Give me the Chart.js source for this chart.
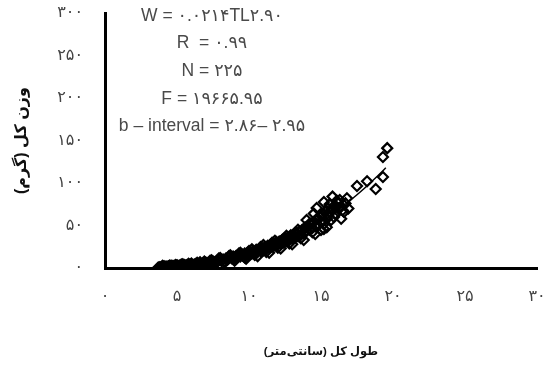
<!DOCTYPE html>
<html>
<head>
<meta charset="utf-8">
<script src="https://cdn.jsdelivr.net/npm/chart.js@4"></script>
<style>
  html, body { margin: 0; padding: 0; background: #fff; }
  #wrap { width: 558px; height: 367px; }
</style>
</head>
<body>
<div id="wrap"><canvas id="chart" width="558" height="367"></canvas></div>
<script>
// length (cm) and weight (g)
const lengths = [3.8, 3.9, 4.0, 4.0, 4.1, 4.2, 4.2, 4.3, 4.4, 4.4, 4.5, 4.6, 4.6, 4.7, 4.8, 4.8, 4.9, 5.0, 5.0, 5.1,
  5.2, 5.2, 5.3, 5.4, 5.5, 5.5, 5.6, 5.7, 5.8, 5.9, 6.0, 6.0, 6.2, 6.3, 6.5, 6.6, 6.8, 7.0, 7.1, 7.3,
  7.5, 7.6, 7.8, 8.0, 8.1, 8.2, 8.4, 8.5, 8.6, 8.8, 8.9, 9.0, 9.1, 9.2, 9.3, 9.4, 9.5, 9.6, 9.7, 9.8,
  9.9, 10.0, 10.1, 10.2, 10.3, 10.4, 10.5, 10.6, 10.7, 10.8, 10.9, 11.0, 11.1, 11.2, 11.3, 11.4, 11.5, 11.6, 11.7, 11.8,
  11.9, 12.0, 12.1, 12.2, 12.3, 12.4, 12.5, 12.6, 12.7, 12.8, 12.9, 13.0, 13.1, 13.2, 13.3, 13.4, 13.5, 13.6, 13.7, 13.8,
  13.9, 14.0, 14.0, 14.1, 14.2, 14.3, 14.4, 14.5, 14.6, 14.7, 14.7, 14.8, 14.9, 15.0, 15.0, 15.1, 15.2, 15.2, 15.3, 15.4,
  15.5, 15.5, 15.6, 15.7, 15.8, 15.9, 16.0, 16.1, 16.2, 16.3, 16.4, 16.6, 16.7, 16.8, 17.5, 18.2, 18.8, 19.3, 19.3, 19.6,
  3.7, 4.0, 4.3, 4.5, 4.7, 4.9, 5.1, 5.3, 5.6, 5.8, 6.1, 6.4, 6.7, 6.9, 7.2, 7.4, 7.7, 7.9, 8.3, 8.7,
  9.0, 9.4, 9.8, 10.2, 10.6, 11.0, 11.4, 11.8, 12.2, 12.6, 13.0, 13.4, 13.8, 14.2, 14.6, 15.0, 15.4, 16.0, 16.4, 16.9,
  4.1, 4.4, 4.6, 4.8, 5.0, 5.2, 5.4, 5.7, 6.0, 6.3, 6.6, 7.0, 7.3, 7.6, 8.0, 8.3, 8.6, 9.0, 9.3, 9.7,
  10.0, 10.4, 10.8, 11.2, 11.6, 12.0, 12.4, 12.8, 13.2, 13.6, 14.0, 14.4, 14.8, 15.2, 15.6, 15.9, 16.2, 16.5, 14.5, 15.8];
const weights = [0.9, 1.2, 0.8, 1.5, 1.1, 1.4, 0.7, 1.6, 1.2, 2.0, 1.5, 1.9, 1.1, 2.2, 1.7, 2.5, 2.0, 2.6, 1.8, 2.4,
  3.0, 2.1, 2.7, 3.2, 2.6, 3.5, 3.0, 3.6, 3.2, 4.0, 3.5, 4.4, 4.0, 4.6, 4.5, 5.3, 5.6, 6.3, 5.5, 7.0,
  7.6, 6.8, 8.4, 9.6, 8.2, 10.0, 11.2, 9.8, 12.0, 11.4, 13.5, 12.0, 14.0, 12.8, 15.2, 13.6, 16.0, 14.2, 17.0, 15.4,
  18.0, 16.2, 19.0, 17.0, 20.0, 18.2, 21.5, 19.4, 22.0, 20.2, 23.5, 21.0, 24.6, 22.4, 26.0, 23.8, 27.5, 25.0, 28.4, 26.4,
  30.5, 27.6, 31.2, 29.0, 33.0, 30.0, 35.0, 31.5, 36.0, 33.0, 38.5, 34.5, 39.0, 36.0, 41.5, 37.5, 43.0, 39.0, 45.0, 41.0,
  47.5, 43.5, 56.5, 49.0, 45.0, 52.0, 47.0, 54.0, 49.0, 70.6, 57.5, 50.5, 60.0, 44.7, 55.0, 63.0, 77.6, 52.0, 66.0, 58.0,
  70.0, 62.0, 75.0, 56.5, 68.0, 73.0, 64.0, 79.0, 70.0, 80.0, 72.0, 65.9, 76.0, 82.0, 96.5, 102, 93, 107, 130.6, 141,
  0.5, 2.5, 0.3, 2.8, 0.9, 3.4, 1.2, 4.0, 1.8, 4.8, 2.5, 6.0, 3.5, 7.5, 4.2, 9.0, 5.5, 11.0, 6.5, 15.0,
  8.5, 18.0, 11.0, 22.0, 14.0, 27.0, 18.0, 32.0, 23.0, 38.0, 28.0, 45.0, 33.0, 52.0, 40.0, 62.0, 48.0, 72.0, 58.0, 70.0,
  2.0, 0.4, 2.6, 0.6, 3.2, 1.0, 4.4, 2.0, 5.2, 2.8, 6.8, 4.0, 8.6, 5.0, 11.8, 7.8, 13.8, 10.0, 17.0, 12.5,
  20.0, 15.5, 24.5, 19.0, 29.5, 24.0, 34.0, 29.0, 41.0, 35.0, 48.0, 42.0, 58.0, 46.0, 66.0, 60.0, 76.0, 68.0, 64.0, 84.0];

// fitted curve W = 0.0214 TL^2.90, tabulated
const fitLengths = [4, 5, 6, 7, 8, 9, 10, 11, 12, 13, 14, 15, 16, 17, 18, 19, 19.5];
const fitWeights = [1.19, 2.28, 3.87, 6.04, 8.9, 12.5, 17.0, 22.4, 28.9, 36.4, 45.1, 55.1, 66.4, 79.1, 93.5, 109.4, 117.9];

const xTicks = [0, 5, 10, 15, 20, 25, 30];
const yTicks = [0, 50, 100, 150, 200, 250, 300];

const statLines = [
  'W = ۰.۰۲۱۴TL۲.۹۰',
  'R  = ۰.۹۹',
  'N = ۲۲۵',
  'F = ۱۹۶۶۵.۹۵',
  'b – interval = ۲.۸۶– ۲.۹۵'
];

const xTitle = 'طول کل (سانتی‌متر)';
const yTitle = 'وزن کل (گرم)';

const FONT = "'Liberation Sans', 'DejaVu Sans', sans-serif";
const faDigits = '۰۱۲۳۴۵۶۷۸۹';
function toFa(n) {
  return String(n).replace(/[0-9]/g, d => faDigits[+d]);
}

const points = lengths.map((x, i) => ({ x: x, y: weights[i] }));
const fitPoints = fitLengths.map((x, i) => ({ x: x, y: fitWeights[i] }));

// the equation block in the upper left
const statsText = {
  id: 'statsText',
  afterDraw(chart) {
    const ctx = chart.ctx;
    ctx.save();
    ctx.font = '17.5px ' + FONT;
    ctx.fillStyle = '#4a4a4a';
    ctx.textAlign = 'center';
    ctx.textBaseline = 'middle';
    statLines.forEach((t, i) => {
      ctx.fillText(t, 212, 16 + i * 27.6);
    });
    ctx.restore();
  }
};

new Chart(document.getElementById('chart'), {
  type: 'scatter',
  data: {
    datasets: [
      {
        data: points,
        pointStyle: 'rectRot',
        pointRadius: 5,
        pointBorderWidth: 2.2,
        borderColor: '#000',
        backgroundColor: 'rgba(255,255,255,0)',
        order: 2
      },
      {
        type: 'line',
        data: fitPoints,
        borderColor: '#000',
        borderWidth: 1.5,
        pointRadius: 0,
        tension: 0.4,
        fill: false,
        order: 1
      }
    ]
  },
  options: {
    responsive: false,
    animation: false,
    events: [],
    layout: { padding: { top: 13, right: 21, left: 0, bottom: 0 } },
    plugins: { legend: { display: false }, tooltip: { enabled: false } },
    scales: {
      x: {
        type: 'linear',
        min: 0, max: 30,
        afterBuildTicks: s => { s.ticks = xTicks.map(v => ({ value: v })); },
        afterFit: s => { s.height = 99; s.paddingLeft = 0; s.paddingRight = 0; },
        grid: { display: false, drawTicks: false },
        border: { color: '#000', width: 3 },
        ticks: { color: '#444', padding: 19, font: { size: 16, family: FONT }, callback: v => toFa(v) },
        title: { display: true, text: xTitle, color: '#111', padding: { top: 0, bottom: 8 }, font: { size: 11.5, weight: 'bold', family: FONT } }
      },
      y: {
        type: 'linear',
        min: 0, max: 300,
        afterBuildTicks: s => { s.ticks = yTicks.map(v => ({ value: v })); },
        afterFit: s => { s.width = 105; s.paddingTop = 0; s.paddingBottom = 0; },
        grid: { display: false, drawTicks: false },
        border: { color: '#000', width: 3 },
        ticks: { color: '#444', padding: 22, font: { size: 16, family: FONT }, callback: v => toFa(v) },
        title: { display: true, text: yTitle, color: '#111', padding: { top: 12, bottom: 0 }, font: { size: 16, weight: 'bold', family: FONT } }
      }
    }
  },
  plugins: [statsText]
});
</script>
</body>
</html>
